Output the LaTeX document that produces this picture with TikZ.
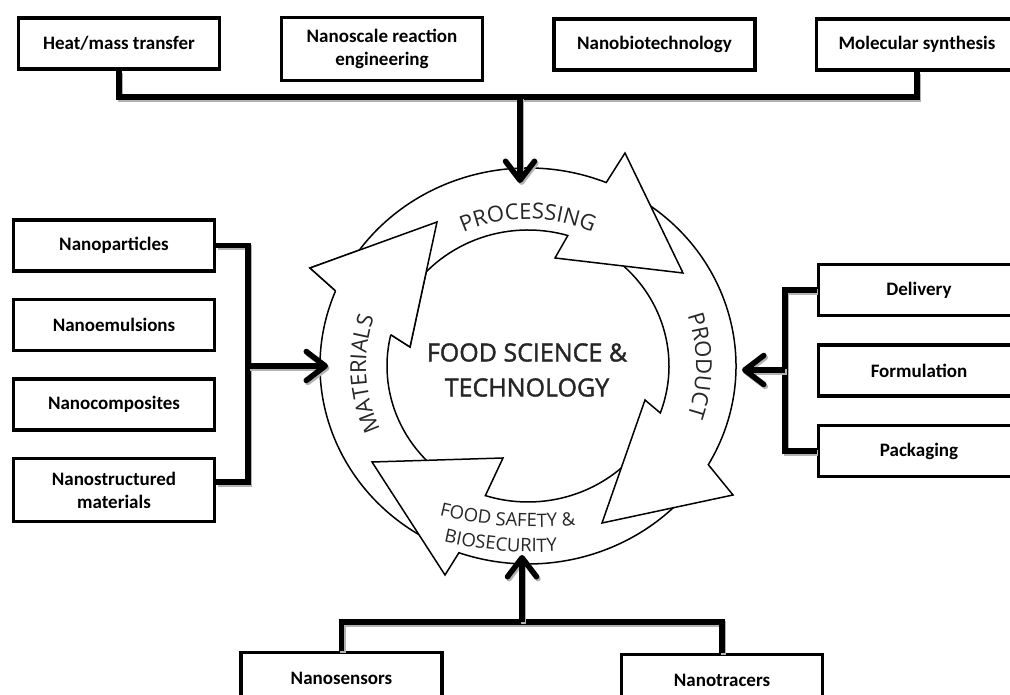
\documentclass[tikz,border=0pt]{standalone}
\usepackage{fontspec}
\usetikzlibrary{positioning, arrows.meta, decorations.text}
\newfontfamily\boxfamily{Carlito}
\newfontfamily\ringfamily{Open Sans}
\newfontfamily\corefamily{Open Sans}[BoldFont={*}, BoldFeatures={FakeBold=1.6}]
\newcommand{\boxfont}{\boxfamily\bfseries\fontsize{19}{23}\selectfont}
\newcommand{\corefont}{\corefamily\bfseries\fontsize{25}{35}\selectfont}
\newcommand{\ringfont}{\ringfamily\fontsize{22}{26}\selectfont}
\newcommand{\safefont}{\ringfamily\fontsize{18.5}{22}\selectfont}

\begin{document}
\begin{tikzpicture}[x=1pt, y=1pt,
        topic/.style={
            rectangle, draw=black, line width=3.5pt, fill=white, text=black,
            font=\boxfont, align=center, minimum width=201, minimum height=51, inner sep=2pt
        },
        feed/.style={
            draw=black, line width=5.5pt,
            preaction={draw=black!30, line width=5.5pt, transform canvas={shift={(1.5pt,-2pt)}}}
        },
        ringarrow/.style={
            draw=black, fill=white, line width=1.5pt, line join=miter
        },
        ringlabel/.style={
            decorate, decoration={text along path, text align=center, text color=black!85, text={#1}}
        },
    ]
    \useasboundingbox (0,0) rectangle (1010,695);
    \clip (0,0) rectangle (1010,695);

    % the cycle
    \begin{scope}[shift={(528,329)}]
        \draw[ringarrow] (245:208 and 198) arc[start angle=245, end angle=157.7, x radius=208, y radius=198]
            -- (-218,98) -- (-91,144) -- (-118,19)
            -- (166.7:141 and 136) arc[start angle=166.7, end angle=245, x radius=141, y radius=136] -- cycle;
        \draw[ringarrow] (-44:208 and 198) arc[start angle=-44, end angle=-109.4, x radius=208, y radius=198]
            -- (-83,-209) -- (-156,-96) -- (-25,-92)
            -- (-107.6:141 and 136) arc[start angle=-107.6, end angle=-44, x radius=141, y radius=136] -- cycle;
        \draw[ringarrow] (58:208 and 198) arc[start angle=58, end angle=-29.9, x radius=208, y radius=198]
            -- (205,-129) -- (74,-157) -- (117,-34)
            -- (-20.2:141 and 136) arc[start angle=-20.2, end angle=58, x radius=141, y radius=136] -- cycle;
        \draw[ringarrow] (150:208 and 198) arc[start angle=150, end angle=67.9, x radius=208, y radius=198]
            -- (97,213) -- (155,93) -- (27,108)
            -- (73.6:141 and 136) arc[start angle=73.6, end angle=150, x radius=141, y radius=136] -- cycle;
        % materials head over the processing tail
        \fill[white] (157.7:208 and 198) -- (-218,98) -- (-91,144) -- (-118,19) -- (166.7:141 and 136) -- cycle;
        \draw[ringarrow, fill=none] (157.7:208 and 198) -- (-218,98) -- (-91,144) -- (-118,19) -- (166.7:141 and 136);

        \path[ringlabel={|\ringfont|PROCESSING}] (125:153 and 147) arc[start angle=125, end angle=55, x radius=153, y radius=147];
        \path[ringlabel={|\ringfont|MATERIALS}] (220:162 and 155) arc[start angle=220, end angle=146, x radius=162, y radius=155];
        \path[ringlabel={|\ringfont|PRODUCT}] (35:168 and 160) arc[start angle=35, end angle=-35, x radius=168, y radius=160];
        \path[ringlabel={|\safefont|FOOD SAFETY {\&}}] (7,239) ++(249:400) arc[start angle=249, end angle=283, radius=400];
        \path[ringlabel={|\safefont|BIOSECURITY}] (7,214) ++(248:400) arc[start angle=248, end angle=282, radius=400];

        \node (core) at (-1,-4) [font=\corefont, text=black!85, align=center] {FOOD SCIENCE \&\\TECHNOLOGY};
    \end{scope}

    % processing inputs
    \node (heatMass) [topic] at (119,651.5) {Heat/mass transfer};
    \node (nanoReaction) [topic, minimum height=63] at (382,646) {Nanoscale reaction\\engineering};
    \node (nanoBio) [topic] at (654.5,650.5) {Nanobiotechnology};
    \node (molSynth) [topic] at (917,650.5) {Molecular synthesis};

    % materials inputs
    \node (nanoPart) [topic] at (114,449.5) {Nanoparticles};
    \node (nanoEmul) [topic, below=25pt of nanoPart] {Nanoemulsions};
    \node (nanoComp) [topic, below=25pt of nanoEmul] {Nanocomposites};
    \node (nanoStruct) [topic, minimum height=63, below=25pt of nanoComp] {Nanostructured\\materials};

    % product inputs
    \node (delivery) [topic] at (919,405) {Delivery};
    \node (formulation) [topic, below=26pt of delivery] {Formulation};
    \node (packaging) [topic, below=26pt of formulation] {Packaging};

    % safety inputs
    \node (nanoSens) [topic] at (341.5,17) {Nanosensors};
    \node (nanoTrac) [topic] at (722,15) {Nanotracers};

    \coordinate (topBus) at (520,598);
    \coordinate (ringTop) at (520,512);
    \coordinate (leftBus) at (248,329);
    \coordinate (ringLeft) at (328,329);
    \coordinate (rightBus) at (785,325);
    \coordinate (ringRight) at (742,325);
    \coordinate (bottomBus) at (522,73);
    \coordinate (ringBottom) at (522,140);

    \draw[feed] (heatMass.south) |- (topBus) -| (molSynth.south);
    \draw[feed, -{Straight Barb[length=19pt, width=29pt, round]}] (topBus) -- (ringTop);

    \draw[feed] (nanoPart.east) -| (leftBus) |- ([yshift=8pt]nanoStruct.east);
    \draw[feed, -{Straight Barb[length=19pt, width=29pt, round]}] (leftBus) -- (ringLeft);

    \draw[feed] (delivery.west) -| (rightBus) |- (packaging.west);
    \draw[feed, -{Straight Barb[length=19pt, width=29pt, round]}] (rightBus) -- (ringRight);

    \draw[feed] (nanoSens.north) |- (bottomBus) -| (nanoTrac.north);
    \draw[feed, -{Straight Barb[length=19pt, width=29pt, round]}] (bottomBus) -- (ringBottom);
\end{tikzpicture}
\end{document}
